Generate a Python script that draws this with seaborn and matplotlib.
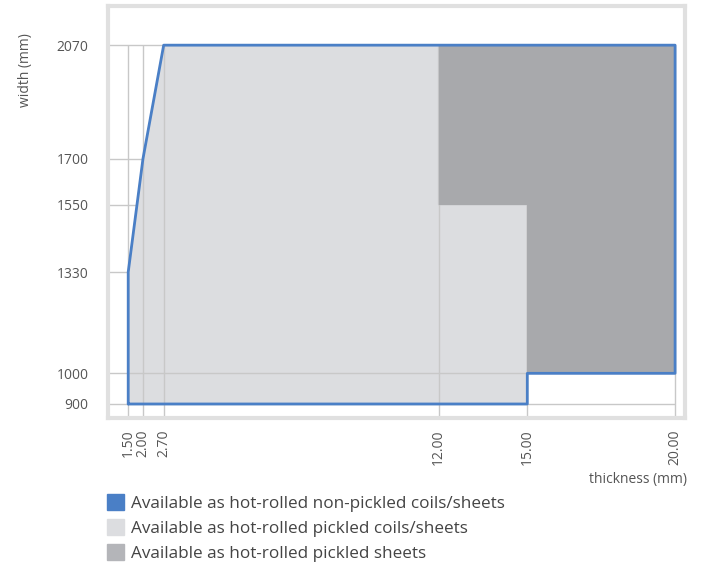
import numpy as np
import pandas as pd
import matplotlib
matplotlib.use('Agg')
import matplotlib.pyplot as plt
import seaborn as sns
from matplotlib.patches import Patch

# data
thickness_ticks = [1.5, 2.0, 2.7, 12.0, 15.0, 20.0]
width_ticks = [900, 1000, 1330, 1550, 1700, 2070]

nonpickled_t = [1.5, 1.5, 2.0, 2.7, 20.0, 20.0, 15.0, 15.0, 1.5]
nonpickled_w = [900, 1330, 1700, 2070, 2070, 1000, 1000, 900, 900]

pickled_t = [1.5, 1.5, 2.0, 2.7, 12.0, 12.0, 15.0, 15.0]
pickled_w = [900, 1330, 1700, 2070, 2070, 1550, 1550, 900]

sheets_t = [12.0, 20.0, 20.0, 15.0, 15.0, 12.0]
sheets_w = [2070, 2070, 1000, 1000, 1550, 1550]

labels = ['Available as hot-rolled non-pickled coils/sheets',
          'Available as hot-rolled pickled coils/sheets',
          'Available as hot-rolled pickled sheets']

blue = '#4a7fc6'
light = '#dcdde0'
dark = '#a8a9ac'
grid_c = '#c8c8c8'
text_c = '#555555'

sns.set_theme(style='white')
plt.rcParams['font.family'] = ['Open Sans', 'DejaVu Sans']

fig = plt.figure(figsize=(7.02, 5.65), dpi=100)
ax = fig.add_axes([0.154, 0.260, 0.822, 0.729])
x_lo, x_hi = 0.82, 20.34
y_lo, y_hi = 854, 2197

# grid only spans the data range, sits under the fills
ax.hlines(width_ticks, x_lo, max(thickness_ticks), color=grid_c, lw=1, zorder=0)
ax.fill(pickled_t, pickled_w, color=light, ec='#c4c4c6', lw=1, zorder=1)
ax.vlines(thickness_ticks, y_lo, max(width_ticks), color=grid_c, lw=1, zorder=2)
ax.hlines([1000], min(pickled_t), 15.0, color=grid_c, lw=1, zorder=2)
ax.fill(sheets_t, sheets_w, color=dark, lw=0, zorder=3)

df = pd.DataFrame({'thickness': nonpickled_t, 'width': nonpickled_w})
sns.lineplot(data=df, x='thickness', y='width', sort=False, color=blue,
             lw=2, ax=ax, zorder=4, estimator=None)

ax.set_xlim(x_lo, x_hi)
ax.set_ylim(y_lo, y_hi)
ax.set_xticks(thickness_ticks)
ax.set_xticklabels([f'{t:.2f}' for t in thickness_ticks], rotation=90,
                   fontsize=10, color=text_c)
ax.set_yticks(width_ticks)
ax.set_yticklabels([str(w) for w in width_ticks], fontsize=10, color=text_c)
ax.tick_params(axis='y', length=0, pad=14)
ax.tick_params(axis='x', length=0, pad=8)
ax.set_xlabel('')
ax.set_ylabel('')
for s in ax.spines.values():
    s.set_color('#e0e0e0')
    s.set_linewidth(3)

fig.text(0.978, 1 - 480 / 565, 'thickness (mm)', ha='right', va='center',
         fontsize=10, color=text_c)
fig.text(0.036, 1 - 70 / 565, 'width (mm)', ha='center', va='center',
         rotation=90, fontsize=10, color=text_c)

handles = [Patch(color=blue), Patch(color=light), Patch(color='#b4b5b9')]
fig.legend(handles, labels, loc='upper left',
           bbox_to_anchor=(0.153, 1 - 494 / 565), frameon=False,
           fontsize=12.3, handlelength=0.95, handleheight=1.05,
           handletextpad=0.45, labelspacing=0.42, borderaxespad=0,
           borderpad=0, labelcolor='#444444')

fig.savefig('out.png', dpi=100)
